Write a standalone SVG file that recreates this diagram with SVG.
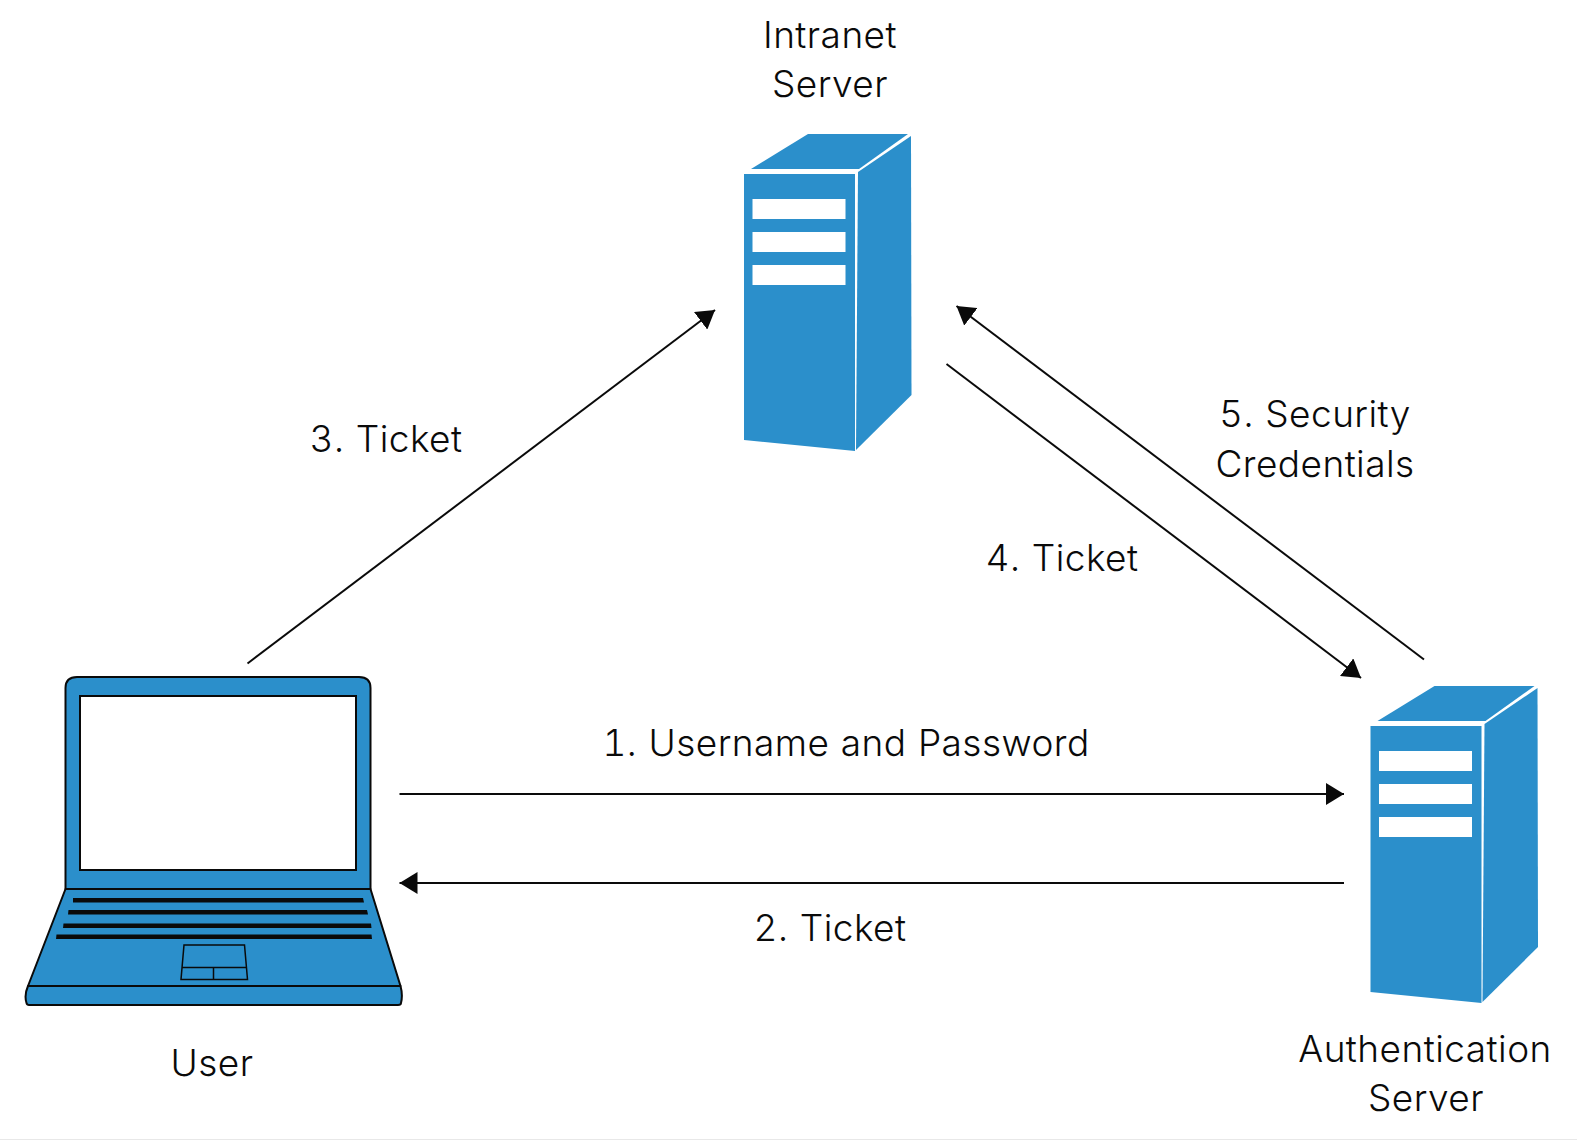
<svg xmlns="http://www.w3.org/2000/svg" width="1577" height="1140" viewBox="0 0 1577 1140">
<style>
.b{fill:#2b8fcb}
.k{fill:#2b8fcb;stroke:#0a0a0a;stroke-width:2;stroke-linejoin:round}
.w{fill:#fff}
.c{fill:none;stroke:#0a0a0a;stroke-width:2}
.bar{fill:#0a0a0a}
text{font-family:"Inter","Liberation Sans",sans-serif;font-size:37px;font-weight:350;letter-spacing:.45px;word-spacing:1px;font-feature-settings:"tnum";fill:#0a0a0a;text-anchor:middle}
</style>
<defs>
<marker id="a" markerUnits="userSpaceOnUse" markerWidth="20" markerHeight="22" refX="18" refY="11" orient="auto"><path d="M0 0L18 11L0 22Z" fill="#0a0a0a"/></marker>
<g id="srv">
<path class="b" d="M751 169L808 134H908L859 169Z"/>
<path class="b" d="M744 174H855V451L744 440Z"/>
<path class="b" d="M858 172L911 136L911.500 395L856 450Z"/>
<rect class="w" x="752.500" y="199" width="93" height="20"/>
<rect class="w" x="752.500" y="232" width="93" height="20"/>
<rect class="w" x="752.500" y="265" width="93" height="20"/>
</g>
</defs>
<rect width="1577" height="1140" fill="#fff"/>
<rect y="1139" width="1577" height="1" fill="#e8e8e8"/>
<g id="connectors">
<path class="c" d="M247.500 663.500L715 310" marker-end="url(#a)"/>
<path class="c" d="M1424 659.500L956.500 306" marker-end="url(#a)"/>
<path class="c" d="M946.500 364L1361 678" marker-end="url(#a)"/>
<path class="c" d="M399.500 794H1344" marker-end="url(#a)"/>
<path class="c" d="M1344 883H399.500" marker-end="url(#a)"/>
</g>
<g id="user">
<path class="k" d="M65.500 889V688Q65.500 677 77 677H359Q370.500 677 370.500 688V889Z"/>
<rect x="80" y="696" width="276" height="174" fill="#fff" stroke="#0a0a0a" stroke-width="2"/>
<path class="k" d="M65.500 889H370.500L400.500 986H28Z"/>
<path class="k" d="M28 986H400.500Q403 995 401 1003Q401 1005 398 1005H29Q27 1005 26.500 1003Q24 995 28 986Z"/>
<path class="bar" d="M73 898H363L364 902.500H73Z"/>
<path class="bar" d="M68.500 910H367L368 914.500H68Z"/>
<path class="bar" d="M63.500 923.500H371L371.500 928H63Z"/>
<path class="bar" d="M56.500 934.500H371.500L372 939H56Z"/>
<path fill="none" stroke="#0a0a0a" stroke-width="1.500" d="M184 945H244.500L247.500 979.500H181ZM182.500 967.500H246M213.500 967.500V979.500"/>
<text x="212" y="1076">User</text>
</g>
<g id="intranet-server">
<use href="#srv"/>
<text x="830" y="48">Intranet</text>
<text x="830" y="97">Server</text>
</g>
<g id="authentication-server">
<use href="#srv" x="626.500" y="552"/>
<text x="1425" y="1062">Authentication</text>
<text x="1426" y="1111">Server</text>
</g>
<g id="labels">
<text x="386" y="452">3. Ticket</text>
<text x="1315" y="427">5. Security</text>
<text x="1315" y="477">Credentials</text>
<text x="1062" y="571">4. Ticket</text>
<text x="846" y="756">1. Username and Password</text>
<text x="830" y="941">2. Ticket</text>
</g>
</svg>
